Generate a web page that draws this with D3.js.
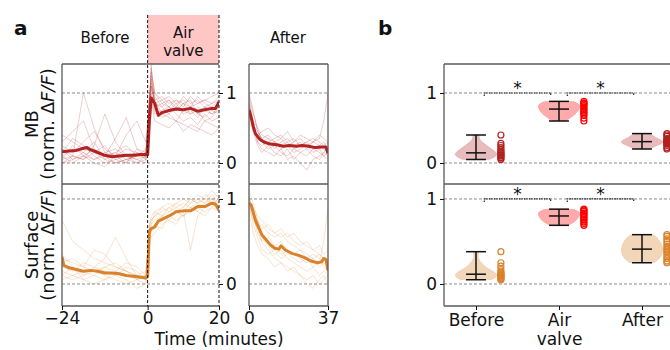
<!DOCTYPE html>
<html>
<head>
<meta charset="utf-8">
<script src="https://cdn.jsdelivr.net/npm/d3@7"></script>
<style>
  body { margin: 0; background: #fff; }
  text { font-family: "DejaVu Sans", sans-serif; }
</style>
</head>
<body>
<div id="chart"></div>
<script>
// Time points (minutes) for individual traces, before + air valve window.
const traceT = [-24, -21, -18, -15, -12, -9, -6, -3, -0.5, 0.5, 1, 2, 4, 6, 8, 10, 12, 14, 16, 18, 20];
// Time points (minutes) for individual traces, after window.
const afterT = [0, 2, 4, 6, 9, 12, 15, 18, 21, 24, 27, 30, 33, 35, 37];

// MB single traces (before + air valve)
const mbTraces = [
  [0.10, 0.20, 0.15, 0.05, 0.10, 0.00, 0.05, 0.10, 0.08, 0.90, 1.35, 1.00, 0.85, 0.90, 0.80, 0.95, 0.85, 0.90, 0.80, 0.85, 0.90],
  [0.30, 0.45, 0.60, 0.20, 0.10, 0.15, 0.05, 0.00, 0.10, 0.80, 1.20, 0.90, 0.70, 0.65, 0.60, 0.55, 0.50, 0.45, 0.60, 0.55, 0.50],
  [0.05, 0.10, 1.00, 0.50, 0.15, 0.10, 0.20, 0.15, 0.10, 0.70, 1.10, 0.95, 0.80, 0.90, 0.75, 0.85, 0.90, 0.70, 0.80, 0.75, 0.85],
  [0.20, 0.10, 0.05, 0.25, 0.70, 0.30, 0.10, 0.05, 0.00, 0.60, 0.95, 0.70, 0.75, 0.80, 0.70, 0.60, 0.65, 0.55, 0.70, 0.60, 0.65],
  [0.00, 0.05, 0.10, 0.00, -0.05, 0.10, 0.40, 0.60, 0.30, 0.85, 1.40, 0.80, 0.85, 0.80, 0.90, 0.85, 0.80, 0.85, 0.90, 0.85, 0.95],
  [0.40, 0.30, 0.20, 0.15, 0.05, 0.00, 0.05, 0.10, 0.15, 0.75, 1.00, 0.75, 0.65, 0.70, 0.80, 0.75, 0.70, 0.80, 0.75, 0.70, 0.80],
  [0.15, 0.35, 0.25, 0.10, 0.00, 0.05, 0.10, 0.05, 0.10, 0.90, 1.25, 0.85, 0.80, 0.70, 0.60, 0.75, 0.80, 0.70, 0.65, 0.75, 0.70],
  [0.10, 0.00, 0.10, 0.20, 0.10, 0.35, 0.65, 0.20, 0.10, 0.80, 1.05, 0.90, 0.95, 0.85, 0.90, 0.80, 0.95, 0.85, 0.90, 0.95, 1.00],
  [0.25, 0.15, 0.30, 0.45, 0.20, 0.10, 0.00, 0.15, 0.05, 0.70, 0.90, 0.60, 0.55, 0.50, 0.60, 0.45, 0.55, 0.50, 0.45, 0.40, 0.50],
  [0.05, 0.25, 0.10, 0.05, 0.15, 0.20, 0.10, 0.00, 0.05, 0.85, 1.30, 1.00, 0.90, 0.95, 0.85, 0.90, 0.80, 0.95, 0.85, 0.80, 0.90],
  [0.20, 0.05, 0.15, 0.30, 0.05, 0.15, 0.25, 0.10, 0.20, 0.95, 1.15, 0.80, 0.70, 0.75, 0.85, 0.70, 0.75, 0.65, 0.80, 0.70, 0.75],
  [0.00, 0.10, 0.05, 0.15, 0.25, 0.05, 0.00, 0.20, 0.15, 0.75, 1.10, 0.85, 0.90, 0.80, 0.75, 0.85, 0.70, 0.75, 0.60, 0.65, 0.80]
];
// MB single traces (after)
const mbAfterTraces = [
  [0.95, 0.70, 0.50, 0.40, 0.35, 0.30, 0.25, 0.30, 0.20, 0.25, 0.30, 0.20, 0.25, 0.30, 0.20],
  [0.80, 0.50, 0.35, 0.30, 0.20, 0.25, 0.15, 0.10, 0.20, 0.15, 0.10, 0.20, 0.15, 0.10, 0.15],
  [0.60, 0.45, 0.40, 0.45, 0.50, 0.40, 0.35, 0.45, 0.30, 0.40, 0.35, 0.30, 0.40, 0.35, 0.30],
  [0.90, 0.60, 0.30, 0.20, 0.15, 0.10, 0.20, 0.05, 0.10, 0.00, -0.10, 0.05, 0.10, 0.15, 0.10],
  [0.70, 0.55, 0.45, 0.35, 0.40, 0.30, 0.35, 0.25, 0.30, 0.35, 0.25, 0.30, 0.35, 0.60, 1.00],
  [1.00, 0.75, 0.45, 0.35, 0.25, 0.30, 0.20, 0.25, 0.15, 0.20, 0.25, 0.15, 0.20, 0.10, 0.05],
  [0.85, 0.60, 0.50, 0.30, 0.35, 0.20, 0.30, 0.35, 0.25, 0.30, 0.20, 0.30, 0.25, 0.20, 0.15],
  [0.75, 0.50, 0.30, 0.25, 0.30, 0.35, 0.40, 0.30, 0.35, 0.25, 0.30, 0.35, 0.30, 0.25, 0.30],
  [0.85, 0.45, 0.25, 0.15, 0.25, 0.15, 0.10, 0.20, 0.05, 0.15, 0.20, 0.10, 0.05, 0.15, 0.25]
];
// Surface single traces (before + air valve)
const surfTraces = [
  [0.75, 0.50, 0.40, 0.30, 0.25, 0.20, 0.15, 0.10, 0.10, 0.55, 0.70, 0.75, 0.80, 0.85, 0.95, 0.90, 1.00, 0.95, 1.05, 1.00, 0.95],
  [0.20, 0.15, 0.25, 0.20, 0.30, 0.55, 0.30, 0.10, 0.05, 0.60, 0.65, 0.70, 0.65, 0.80, 0.85, 0.80, 0.90, 0.85, 0.95, 1.00, 0.90],
  [0.10, 0.05, 0.10, 0.15, 0.10, 0.05, 0.00, 0.05, 0.00, 0.50, 0.55, 0.60, 0.70, 0.75, 0.70, 0.85, 0.40, 0.80, 0.90, 0.95, 0.85],
  [0.30, 0.25, 0.20, 0.40, 0.35, 0.20, 0.15, 0.10, 0.15, 0.70, 0.75, 0.80, 0.85, 0.90, 0.95, 1.00, 0.95, 1.05, 1.00, 1.10, 1.00],
  [0.15, 0.10, 0.05, 0.00, 0.05, 0.10, 0.05, -0.05, 0.00, 0.55, 0.60, 0.70, 0.75, 0.80, 0.75, 0.80, 0.85, 0.90, 0.85, 0.90, 0.95],
  [0.25, 0.30, 0.20, 0.15, 0.20, 0.15, 0.25, 0.20, 0.10, 0.65, 0.75, 0.80, 0.90, 0.85, 0.90, 0.95, 0.90, 0.95, 1.00, 0.95, 1.00],
  [0.05, 0.10, 0.15, 0.10, 0.05, 0.15, 0.10, 0.05, 0.10, 0.60, 0.65, 0.70, 0.80, 0.75, 0.85, 0.80, 0.90, 0.85, 0.80, 0.90, 0.85],
  [0.35, 0.20, 0.10, 0.20, 0.15, 0.10, 0.20, 0.15, 0.05, 0.70, 0.80, 0.85, 0.80, 0.90, 0.85, 0.90, 1.00, 0.95, 0.90, 1.00, 1.05],
  [0.10, 0.20, 0.05, 0.10, 0.20, 0.25, 0.15, 0.05, 0.10, 0.65, 0.70, 0.85, 0.90, 0.95, 0.90, 0.85, 0.95, 1.00, 0.95, 1.05, 0.95]
];
// Surface single traces (after)
const surfAfterTraces = [
  [1.05, 0.80, 0.60, 0.50, 0.40, 0.30, 0.25, 0.20, 0.15, 0.10, 0.05, 0.10, 0.00, 0.05, 0.10],
  [0.90, 0.75, 0.65, 0.70, 0.60, 0.55, 0.60, 0.50, 0.45, 0.40, 0.35, 0.30, 0.35, 0.30, 0.25],
  [1.00, 0.85, 0.70, 0.55, 0.45, 0.35, 0.40, 0.30, 0.25, 0.20, 0.15, 0.20, 0.10, 0.15, 0.10],
  [0.95, 0.70, 0.55, 0.40, 0.35, 0.40, 0.30, 0.35, 0.30, 0.25, 0.30, 0.20, 0.25, 0.50, 0.90],
  [1.00, 0.90, 0.80, 0.75, 0.65, 0.60, 0.55, 0.60, 0.50, 0.45, 0.50, 0.40, 0.35, 0.30, 0.25],
  [0.85, 0.60, 0.45, 0.35, 0.30, 0.20, 0.25, 0.15, 0.20, 0.10, 0.00, -0.05, 0.05, 0.10, 0.00],
  [1.10, 0.95, 0.75, 0.60, 0.50, 0.45, 0.35, 0.40, 0.35, 0.30, 0.25, 0.30, 0.20, 0.25, 0.20],
  [0.95, 0.80, 0.65, 0.50, 0.55, 0.45, 0.50, 0.40, 0.35, 0.40, 0.30, 0.35, 0.30, 0.20, 0.15],
  [0.90, 0.85, 0.75, 0.65, 0.70, 0.60, 0.65, 0.55, 0.60, 0.50, 0.45, 0.40, 0.45, 0.35, 0.40]
];

// Mean traces
const mbMeanT = [-24, -22, -20, -18, -17, -16, -14, -12, -10, -8, -6, -4, -2, 0, 0.5, 1, 2, 3, 4, 6, 8, 10, 12, 14, 16, 18, 19, 20];
const mbMean = [0.16, 0.17, 0.18, 0.21, 0.22, 0.19, 0.15, 0.11, 0.09, 0.10, 0.11, 0.11, 0.12, 0.12, 0.60, 0.93, 0.85, 0.68, 0.72, 0.75, 0.77, 0.76, 0.78, 0.74, 0.76, 0.78, 0.78, 0.87];
const mbAfterMeanT = [0, 1, 2, 3, 5, 7, 10, 13, 16, 19, 22, 25, 28, 31, 34, 36, 37];
const mbAfterMean = [0.76, 0.65, 0.52, 0.42, 0.34, 0.30, 0.27, 0.26, 0.24, 0.25, 0.24, 0.25, 0.24, 0.22, 0.23, 0.23, 0.14];
const surfMeanT = [-24, -23.5, -22, -20, -18, -16, -14, -12, -10, -8, -6, -4, -2, -0.5, 0, 0.5, 1, 2, 3, 4, 6, 8, 10, 12, 14, 16, 18, 19, 20];
const surfMean = [0.32, 0.22, 0.19, 0.17, 0.15, 0.16, 0.15, 0.13, 0.13, 0.12, 0.10, 0.09, 0.08, 0.07, 0.09, 0.62, 0.65, 0.67, 0.74, 0.76, 0.80, 0.85, 0.86, 0.86, 0.91, 0.91, 0.95, 0.94, 0.87];
const surfAfterMeanT = [0, 1, 3, 6, 8, 10, 12, 14, 15, 17, 20, 23, 26, 29, 32, 34, 35, 36, 37];
const surfAfterMean = [0.95, 0.93, 0.75, 0.58, 0.52, 0.46, 0.42, 0.41, 0.45, 0.40, 0.36, 0.34, 0.31, 0.27, 0.25, 0.26, 0.30, 0.29, 0.16];

// Panel b: per-animal averages
const categories = ["Before", "Air valve", "After"];
const mbPoints = [
  [0.40, 0.28, 0.25, 0.22, 0.19, 0.17, 0.15, 0.14, 0.12, 0.11, 0.10, 0.08, 0.07, 0.05],
  [0.88, 0.86, 0.85, 0.84, 0.82, 0.80, 0.78, 0.76, 0.74, 0.72, 0.70, 0.68, 0.64, 0.60],
  [0.42, 0.40, 0.38, 0.35, 0.33, 0.32, 0.31, 0.30, 0.29, 0.28, 0.27, 0.25, 0.22, 0.20]
];
const surfPoints = [
  [0.38, 0.25, 0.21, 0.17, 0.14, 0.13, 0.12, 0.11, 0.10, 0.09, 0.08, 0.07, 0.06, 0.05],
  [0.88, 0.87, 0.86, 0.85, 0.83, 0.82, 0.81, 0.79, 0.78, 0.76, 0.75, 0.73, 0.71, 0.69],
  [0.58, 0.56, 0.53, 0.50, 0.47, 0.44, 0.42, 0.40, 0.38, 0.35, 0.32, 0.30, 0.27, 0.25]
];

const W = 670, H = 350;
const MB_RED = "#b22222", AIR_RED = "#ff0000", ORANGE = "#d9822b";
const SPINE = "#5a5a5a";
const FS = 17;

const svg = d3.select("#chart").append("svg").attr("width", W).attr("height", H);
const defs = svg.append("defs");

// Scales
const xPre = d3.scaleLinear().domain([-24, 20]).range([62, 219]);
const xPost = d3.scaleLinear().domain([0, 37]).range([249, 328]);
const yMB = d3.scaleLinear().domain([-0.3, 1.414]).range([184, 64]);
const ySurf = d3.scaleLinear().domain([-0.259, 1.176]).range([306, 184]);
const xB = d3.scalePoint().domain(categories).range([476, 642]);
const bStep = xB.step();

function clip(id, x0, x1, y0, y1) {
  defs.append("clipPath").attr("id", id).append("rect")
    .attr("x", x0).attr("y", y0).attr("width", x1 - x0).attr("height", y1 - y0);
}
clip("c-mb-pre", 62, 219, 64, 184);
clip("c-mb-post", 249, 328, 64, 184);
clip("c-sf-pre", 62, 219, 184, 306);
clip("c-sf-post", 249, 328, 184, 306);

// Air valve shaded header
svg.append("rect").attr("x", xPre(0)).attr("y", 15)
  .attr("width", xPre(20) - xPre(0)).attr("height", 64 - 15)
  .attr("fill", "#ffc6c6");

// Dashed reference lines at 0 and 1
function hGrid(x0, x1, y) {
  [0, 1].forEach(v => {
    svg.append("line").attr("x1", x0).attr("x2", x1).attr("y1", y(v)).attr("y2", y(v))
      .attr("stroke", "#8a8a8a").attr("stroke-width", 1).attr("stroke-dasharray", "3,2");
  });
}
hGrid(62, 219, yMB); hGrid(249, 328, yMB); hGrid(62, 219, ySurf); hGrid(249, 328, ySurf);
hGrid(444, W, yMB); hGrid(444, W, ySurf);

// Traces
function traces(clipId, xs, ys, ts, rows, color, meanT, mean) {
  const g = svg.append("g").attr("clip-path", `url(#${clipId})`);
  const line = d3.line().x((d, i) => xs(ts[i])).y(d => ys(d));
  g.selectAll("path.tr").data(rows).enter().append("path")
    .attr("d", line).attr("fill", "none")
    .attr("stroke", color).attr("stroke-opacity", 0.22).attr("stroke-width", 1);
  const mline = d3.line().x((d, i) => xs(meanT[i])).y(d => ys(d));
  g.append("path").attr("d", mline(mean)).attr("fill", "none")
    .attr("stroke", color).attr("stroke-width", 3).attr("stroke-linejoin", "round");
}
traces("c-mb-pre", xPre, yMB, traceT, mbTraces, MB_RED, mbMeanT, mbMean);
traces("c-mb-post", xPost, yMB, afterT, mbAfterTraces, MB_RED, mbAfterMeanT, mbAfterMean);
traces("c-sf-pre", xPre, ySurf, traceT, surfTraces, ORANGE, surfMeanT, surfMean);
traces("c-sf-post", xPost, ySurf, afterT, surfAfterTraces, ORANGE, surfAfterMeanT, surfAfterMean);

// Spines
function seg(x1, y1, x2, y2, color = SPINE, w = 1.3, dash = null) {
  const l = svg.append("line").attr("x1", x1).attr("y1", y1).attr("x2", x2).attr("y2", y2)
    .attr("stroke", color).attr("stroke-width", w);
  if (dash) l.attr("stroke-dasharray", dash);
}
// panel a left
seg(62, 64, 219, 64); seg(62, 184, 219, 184); seg(62, 306, 219, 306); seg(62, 64, 62, 306);
// panel a after
seg(249, 64, 328, 64); seg(249, 184, 328, 184); seg(249, 306, 328, 306);
seg(249, 64, 249, 306); seg(328, 64, 328, 306);
// air valve markers
[0, 20].forEach(t => seg(xPre(t), 15, xPre(t), 306, "#111", 1, "3,2"));
// panel b
seg(444, 64, W, 64); seg(444, 184, W, 184); seg(444, 306, W, 306); seg(444, 64, 444, 306);

// Axes helper
const fmt = d3.format("d");
function styleAxis(g) {
  g.select(".domain").remove();
  g.selectAll(".tick line").attr("stroke", "#111").attr("stroke-width", 1);
  g.selectAll(".tick text").attr("fill", "#111").attr("font-size", FS)
    .attr("font-family", "DejaVu Sans, sans-serif");
}
svg.append("g").attr("transform", "translate(0,306)")
  .call(d3.axisBottom(xPre).tickValues([-24, 0, 20]).tickFormat(fmt).tickSize(4).tickPadding(2)).call(styleAxis);
svg.append("g").attr("transform", "translate(0,306)")
  .call(d3.axisBottom(xPost).tickValues([0, 37]).tickFormat(fmt).tickSize(4).tickPadding(2)).call(styleAxis);
svg.append("g").attr("transform", `translate(${xPre(20)},0)`)
  .call(d3.axisRight(yMB).tickValues([0, 1]).tickFormat(fmt).tickSize(4).tickPadding(3)).call(styleAxis);
svg.append("g").attr("transform", `translate(${xPre(20)},0)`)
  .call(d3.axisRight(ySurf).tickValues([0, 1]).tickFormat(fmt).tickSize(4).tickPadding(3)).call(styleAxis);
svg.append("g").attr("transform", "translate(444,0)")
  .call(d3.axisLeft(yMB).tickValues([0, 1]).tickFormat(fmt).tickSize(4).tickPadding(3)).call(styleAxis);
svg.append("g").attr("transform", "translate(444,0)")
  .call(d3.axisLeft(ySurf).tickValues([0, 1]).tickFormat(fmt).tickSize(4).tickPadding(3)).call(styleAxis);
const xbAxis = svg.append("g").attr("transform", "translate(0,306)")
  .call(d3.axisBottom(xB).tickSize(4).tickFormat("")).call(styleAxis);
xbAxis.selectAll(".tick").append("text")
  .attr("text-anchor", "middle").attr("font-size", FS).attr("fill", "#111")
  .attr("font-family", "DejaVu Sans, sans-serif")
  .each(function (d) {
    const parts = d.split(" ");
    parts.forEach((p, i) => d3.select(this).append("tspan")
      .attr("x", 0).attr("y", 20 + i * 19).text(p));
  });

// Text helper
function txt(x, y, s, size, opts = {}) {
  const t = svg.append("text").attr("x", x).attr("y", y).attr("font-size", size)
    .attr("fill", "#111").attr("text-anchor", opts.anchor || "middle").text(s);
  if (opts.weight) t.attr("font-weight", opts.weight);
  return t;
}
txt(14, 35, "a", 20, { anchor: "start", weight: "bold" });
txt(378, 35, "b", 20, { anchor: "start", weight: "bold" });
txt(105, 43, "Before", 15);
txt(xPre(10), 38, "Air", 15);
txt(xPre(10), 56, "valve", 15);
txt(288, 43, "After", 15);
txt(219, 345, "Time (minutes)", FS);

// Y labels (rotated, two lines)
function ylabel(cy, first) {
  const g = svg.append("g").attr("transform", `translate(0,${cy}) rotate(-90)`);
  g.append("text").attr("x", 0).attr("y", 38).attr("text-anchor", "middle")
    .attr("font-size", 18).attr("fill", "#111").text(first);
  const t = g.append("text").attr("x", 0).attr("y", 54).attr("text-anchor", "middle")
    .attr("font-size", 18).attr("fill", "#111");
  t.append("tspan").text("(norm. \u0394");
  t.append("tspan").attr("font-style", "italic").text("F/F");
  t.append("tspan").text(")");
}
ylabel(124, "MB");
ylabel(245, "Surface");

// Violin + points for panel b
function kde(vals) {
  const n = vals.length;
  const bw = d3.deviation(vals) * Math.pow(n, -1 / 5);
  const lo = d3.min(vals), hi = d3.max(vals);
  return d3.range(101).map(i => {
    const y = lo + (hi - lo) * i / 100;
    return [y, d3.mean(vals, v => Math.exp(-0.5 * ((y - v) / bw) ** 2))];
  });
}
function violins(ys, groups, fills, pointColors) {
  groups.forEach((vals, i) => {
    const cx = xB(categories[i]);
    const dens = kde(vals);
    const maxD = d3.max(dens, d => d[1]);
    const half = 0.25 * bStep;
    const area = d3.area()
      .y(d => ys(d[0]))
      .x0(d => cx - d[1] / maxD * half)
      .x1(d => cx + d[1] / maxD * half);
    svg.append("path").attr("d", area(dens))
      .attr("fill", fills[i].c).attr("fill-opacity", fills[i].o)
      .attr("stroke", fills[i].c).attr("stroke-opacity", fills[i].o * 0.6).attr("stroke-width", 0.8);
    const lo = d3.min(vals), hi = d3.max(vals), med = d3.median(vals);
    const cap = 0.12 * bStep;
    seg(cx, ys(lo), cx, ys(hi), "#111", 1.5);
    [lo, hi, med].forEach(v => seg(cx - cap, ys(v), cx + cap, ys(v), "#111", 1.5));
    svg.selectAll(null).data(vals).enter().append("circle")
      .attr("cx", cx + 0.3 * bStep).attr("cy", d => ys(d)).attr("r", 3)
      .attr("fill", "none").attr("stroke", pointColors[i]).attr("stroke-width", 1.2);
  });
}
violins(yMB, mbPoints,
  [{ c: MB_RED, o: 0.3 }, { c: AIR_RED, o: 0.33 }, { c: MB_RED, o: 0.3 }],
  [MB_RED, AIR_RED, MB_RED]);
violins(ySurf, surfPoints,
  [{ c: ORANGE, o: 0.33 }, { c: AIR_RED, o: 0.33 }, { c: ORANGE, o: 0.33 }],
  [ORANGE, AIR_RED, ORANGE]);

// Significance brackets
function bracket(ys, a, b) {
  const x1 = xB(categories[a]) + 0.1 * bStep, x2 = xB(categories[b]) - 0.1 * bStep;
  const y = ys(1);
  svg.append("path").attr("d", `M${x1},${y + 3}V${y}H${x2}V${y + 3}`)
    .attr("fill", "none").attr("stroke", "#222").attr("stroke-width", 1.2).attr("stroke-dasharray", "1.5,1");
  txt((x1 + x2) / 2, y + 1, "*", FS);
}
[yMB, ySurf].forEach(ys => { bracket(ys, 0, 1); bracket(ys, 1, 2); });
</script>
</body>
</html>
